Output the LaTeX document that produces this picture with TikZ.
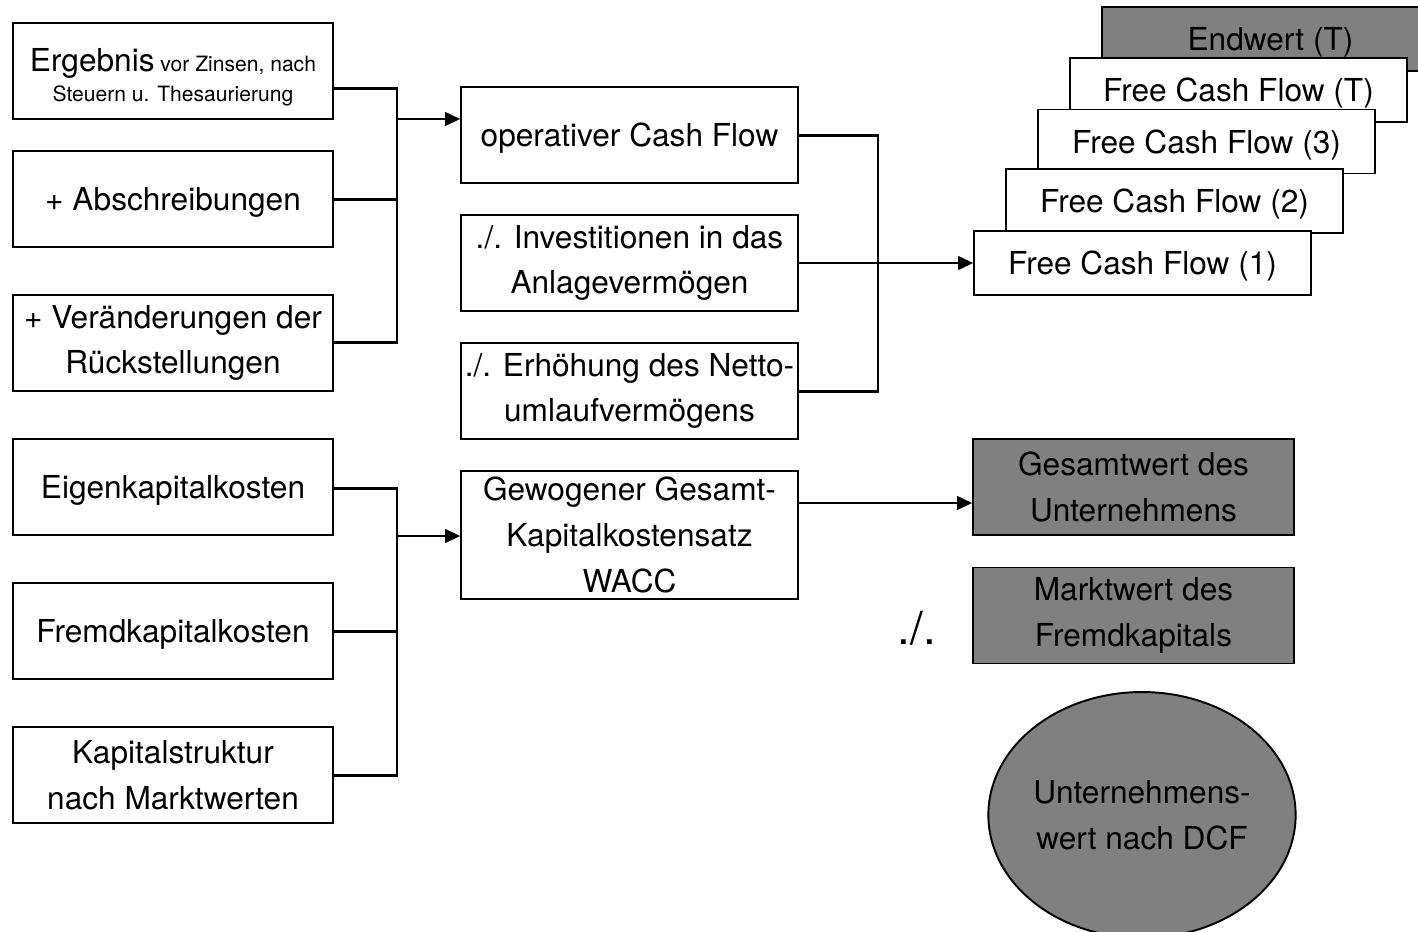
\documentclass[tikz,border=0pt]{standalone}
\usepackage{fontspec}
\setmainfont{TeX Gyre Heros}
\usetikzlibrary{shapes.geometric, arrows.meta, positioning}
\definecolor{ink}{HTML}{000000}
\definecolor{shade}{HTML}{808080}
\tikzset{
  box/.style  ={draw=ink, line width=1.1pt, fill=white, minimum width=6.4cm,
                minimum height=1.92cm, align=center, inner sep=0pt,
                font=\fontsize{18}{26}\selectfont,
                execute at begin node=\rule{0pt}{17pt}},
  boxm/.style ={box, minimum width=6.74cm},
  boxf/.style ={boxm, minimum height=1.28cm},
  boxg/.style ={box, fill=shade, minimum width=6.42cm},
  bus/.style  ={line width=1.7pt, draw=ink},
  flow/.style ={-{Triangle[length=3mm,width=2.8mm]}, line width=0.7pt, draw=ink}
}

\begin{document}
\begin{tikzpicture}[x=0.02cm, y=-0.02cm]
  \useasboundingbox (0,0) rectangle (1418,931);
  \clip (0,0) rectangle (1418,931);

  % linke Spalte
  \node[box, font=\fontsize{12}{17}\selectfont] (erg) at (173,71)
    {\rule{0pt}{20pt}{\fontsize{18}{26}\selectfont Ergebnis} vor Zinsen, nach\\Steuern u. Thesaurierung};
  \node[box] (abs) at (173,199) {+ Abschreibungen};
  \node[box] (ver) at (173,343) {+ Veränderungen der\\Rückstellungen};
  \node[box] (ek)  at (173,487) {Eigenkapitalkosten};
  \node[box] (fk)  at (173,631) {Fremdkapitalkosten};
  \node[box] (ks)  at (173,775) {Kapitalstruktur\\nach Marktwerten};

  % mittlere Spalte
  \node[boxm] (ocf) at (629.5,135) {operativer Cash Flow};
  \node[boxm] (inv) at (629.5,263) {./. Investitionen in das\\Anlagevermögen};
  \node[boxm] (nuv) at (629.5,391) {./. Erhöhung des Netto-\\umlaufvermögens};
  \node[boxm, minimum height=2.56cm] (wacc) at (629.5,535)
    {Gewogener Gesamt-\\Kapitalkostensatz\\WACC};

  % Free Cash Flows
  \node[boxf, fill=shade] (end) at (1270.5,39) {Endwert (T)};
  \node[boxf] (fcft) at (1238.5,90)  {Free Cash Flow (T)};
  \node[boxf] (fcf3) at (1206.5,141.5) {Free Cash Flow (3)};
  \node[boxf] (fcf2) at (1174.5,201) {Free Cash Flow (2)};
  \node[boxf] (fcf1) at (1142.5,263) {Free Cash Flow (1)};

  % Unternehmenswert
  \node[boxg] (gw) at (1133.5,487) {Gesamtwert des\\Unternehmens};
  \node[boxg] (mw) at (1133.5,615.5) {Marktwert des\\Fremdkapitals};
  \node[font=\fontsize{26}{30}\selectfont] (minus) at (917,628) {./.};
  \node[ellipse, draw=ink, line width=1.1pt, fill=shade, minimum width=6.12cm,
        minimum height=4.92cm, inner sep=0pt, align=center,
        font=\fontsize{18}{26}\selectfont] (dcf) at (1142,815)
    {Unternehmens-\\wert nach DCF};

  % Sammelschienen
  \coordinate (jE) at (397,88);
  \coordinate (jA) at (397,199);
  \coordinate (jV) at (397,342);
  \coordinate (jO) at (397,119);
  \draw[bus] (erg.east |- jE) -- (jE) -- (jV) -- (ver.east |- jV);
  \draw[bus] (abs.east |- jA) -- (jA);
  \draw[flow] (jO) -- (ocf.west |- jO);

  \coordinate (kO) at (878,135);
  \coordinate (kN) at (878,391);
  \coordinate (kI) at (878,263);
  \draw[bus] (ocf.east |- kO) -- (kO) -- (kN) -- (nuv.east |- kN);
  \draw[flow] (inv.east |- kI) -- (fcf1.west |- kI);

  \coordinate (jK) at (397,488);
  \coordinate (jF) at (397,631);
  \coordinate (jS) at (397,775);
  \coordinate (jW) at (397,536);
  \draw[bus] (ek.east |- jK) -- (jK) -- (jS) -- (ks.east |- jS);
  \draw[bus] (fk.east |- jF) -- (jF);
  \draw[flow] (jW) -- (wacc.west |- jW);

  \coordinate (kW) at (878,503);
  \draw[flow] (wacc.east |- kW) -- (gw.west |- kW);
\end{tikzpicture}
\end{document}
